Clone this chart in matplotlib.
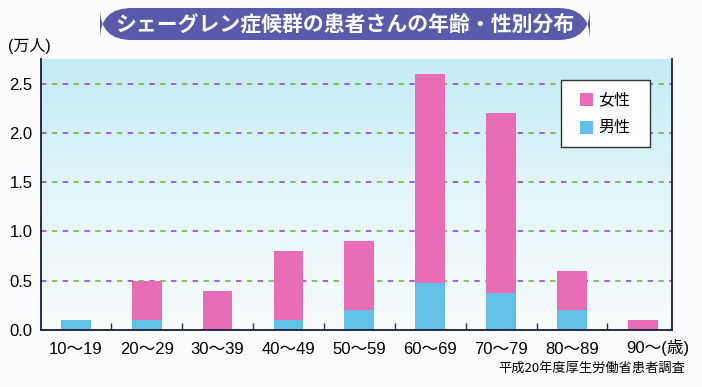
import matplotlib
matplotlib.use("Agg")
import matplotlib.pyplot as plt
import numpy as np
from matplotlib.patches import FancyBboxPatch, Rectangle
from matplotlib.colors import LinearSegmentedColormap
from matplotlib.transforms import ScaledTranslation

plt.rcParams['font.family'] = ['Liberation Sans', 'Noto Sans CJK JP', 'DejaVu Sans']
CJK = ['Noto Sans CJK JP', 'DejaVu Sans']

categories = ["10～19", "20～29", "30～39", "40～49", "50～59", "60～69", "70～79", "80～89", "90～(歳)"]
male = [0.1, 0.1, 0.0, 0.1, 0.2, 0.48, 0.38, 0.2, 0.0]
female = [0.0, 0.4, 0.4, 0.7, 0.7, 2.12, 1.82, 0.4, 0.1]
series_labels = ["女性", "男性"]
series_colors = ['#e96db5', '#62c1e4']
yticks = [0.0, 0.5, 1.0, 1.5, 2.0, 2.5]
title = "シェーグレン症候群の患者さんの年齢・性別分布"
unit = "(万人)"
source = "平成20年度厚生労働省患者調査"

W, H = 702, 387
fig = plt.figure(figsize=(7.02, 3.87), dpi=100)
fig.patch.set_facecolor('#fbfcfd')
ax = fig.add_axes([41/W, 1-330/H, (672-41)/W, (330-59)/H])

x = np.arange(len(categories))
ax.set_xlim(-0.49, 8.41)
ax.set_ylim(0, 2.75)

# gradient background
cmap = LinearSegmentedColormap.from_list('bg', ['#f8fbfc', '#e4f5fa', '#c4ebf5'])
grad = np.linspace(0, 1, 256).reshape(-1, 1)
ax.imshow(grad, extent=[-0.49, 8.41, 0, 2.75], origin='lower', aspect='auto', cmap=cmap, zorder=0)

for yv in yticks[1:]:
    ax.axhline(yv, color='#9b55d2', lw=1.3, linestyle=(0, (3, 9)), zorder=1)
    ax.axhline(yv, color='#7fbf4a', lw=1.3, linestyle=(6, (3, 9)), zorder=1)

w = 0.42
ax.bar(x, male, w, color=series_colors[1], zorder=2)
ax.bar(x, female, w, bottom=male, color=series_colors[0], zorder=2)

ax.set_xticks(x)
ax.set_xticklabels(categories, fontsize=12)
ax.set_xticks(np.arange(0.5, 8, 1), minor=True)
ax.tick_params(axis='x', which='major', length=0, pad=9)
ax.tick_params(axis='x', which='minor', direction='in', length=5, width=1, color='#333333')
last = ax.get_xticklabels()[-1]
last.set_horizontalalignment('left')
last.set_transform(last.get_transform() + ScaledTranslation(-0.17, 0.04, fig.dpi_scale_trans))
ax.set_yticks(yticks)
ax.set_yticklabels([f"{v:.1f}" for v in yticks], fontsize=12)
ax.tick_params(axis='y', length=0, pad=6)

for s in ['left', 'bottom', 'right']:
    ax.spines[s].set_color('#1a1a40')
    ax.spines[s].set_linewidth(1.3)
ax.spines['top'].set_visible(False)

# manual legend box
fig.patches.append(Rectangle((561/W, 1-147/H), 89/W, 67/H, transform=fig.transFigure,
                             facecolor='white', edgecolor='#333333', lw=1.0, zorder=5))
for i, (lab, col) in enumerate(zip(series_labels, series_colors)):
    yc = 99.5 + i*28
    fig.patches.append(Rectangle((580/W, 1-(yc+6.5)/H), 13/W, 13/H, transform=fig.transFigure,
                                 facecolor=col, edgecolor='none', zorder=6))
    fig.text(598/W, 1-yc/H, lab, fontsize=11.5, va='center', ha='left', family=CJK, zorder=7)

fig.text(8/W, 1-46/H, unit, fontsize=11.5, va='center', ha='left')
fig.text(685/W, 1-368/H, source, fontsize=9.5, va='center', ha='right', family=CJK)

# title banner
banner = FancyBboxPatch((100/W, 1-40/H), (590-100)/W, 32/H,
                        boxstyle="round,pad=0,rounding_size=0.045", transform=fig.transFigure,
                        facecolor='#5a5aab', edgecolor='none', mutation_aspect=W/H)
fig.patches.append(banner)
fig.text(345/W, 1-24/H, title, fontsize=15, fontweight='bold', color='white',
         ha='center', va='center', family=CJK)

fig.savefig('out.png', dpi=100, facecolor=fig.get_facecolor())
